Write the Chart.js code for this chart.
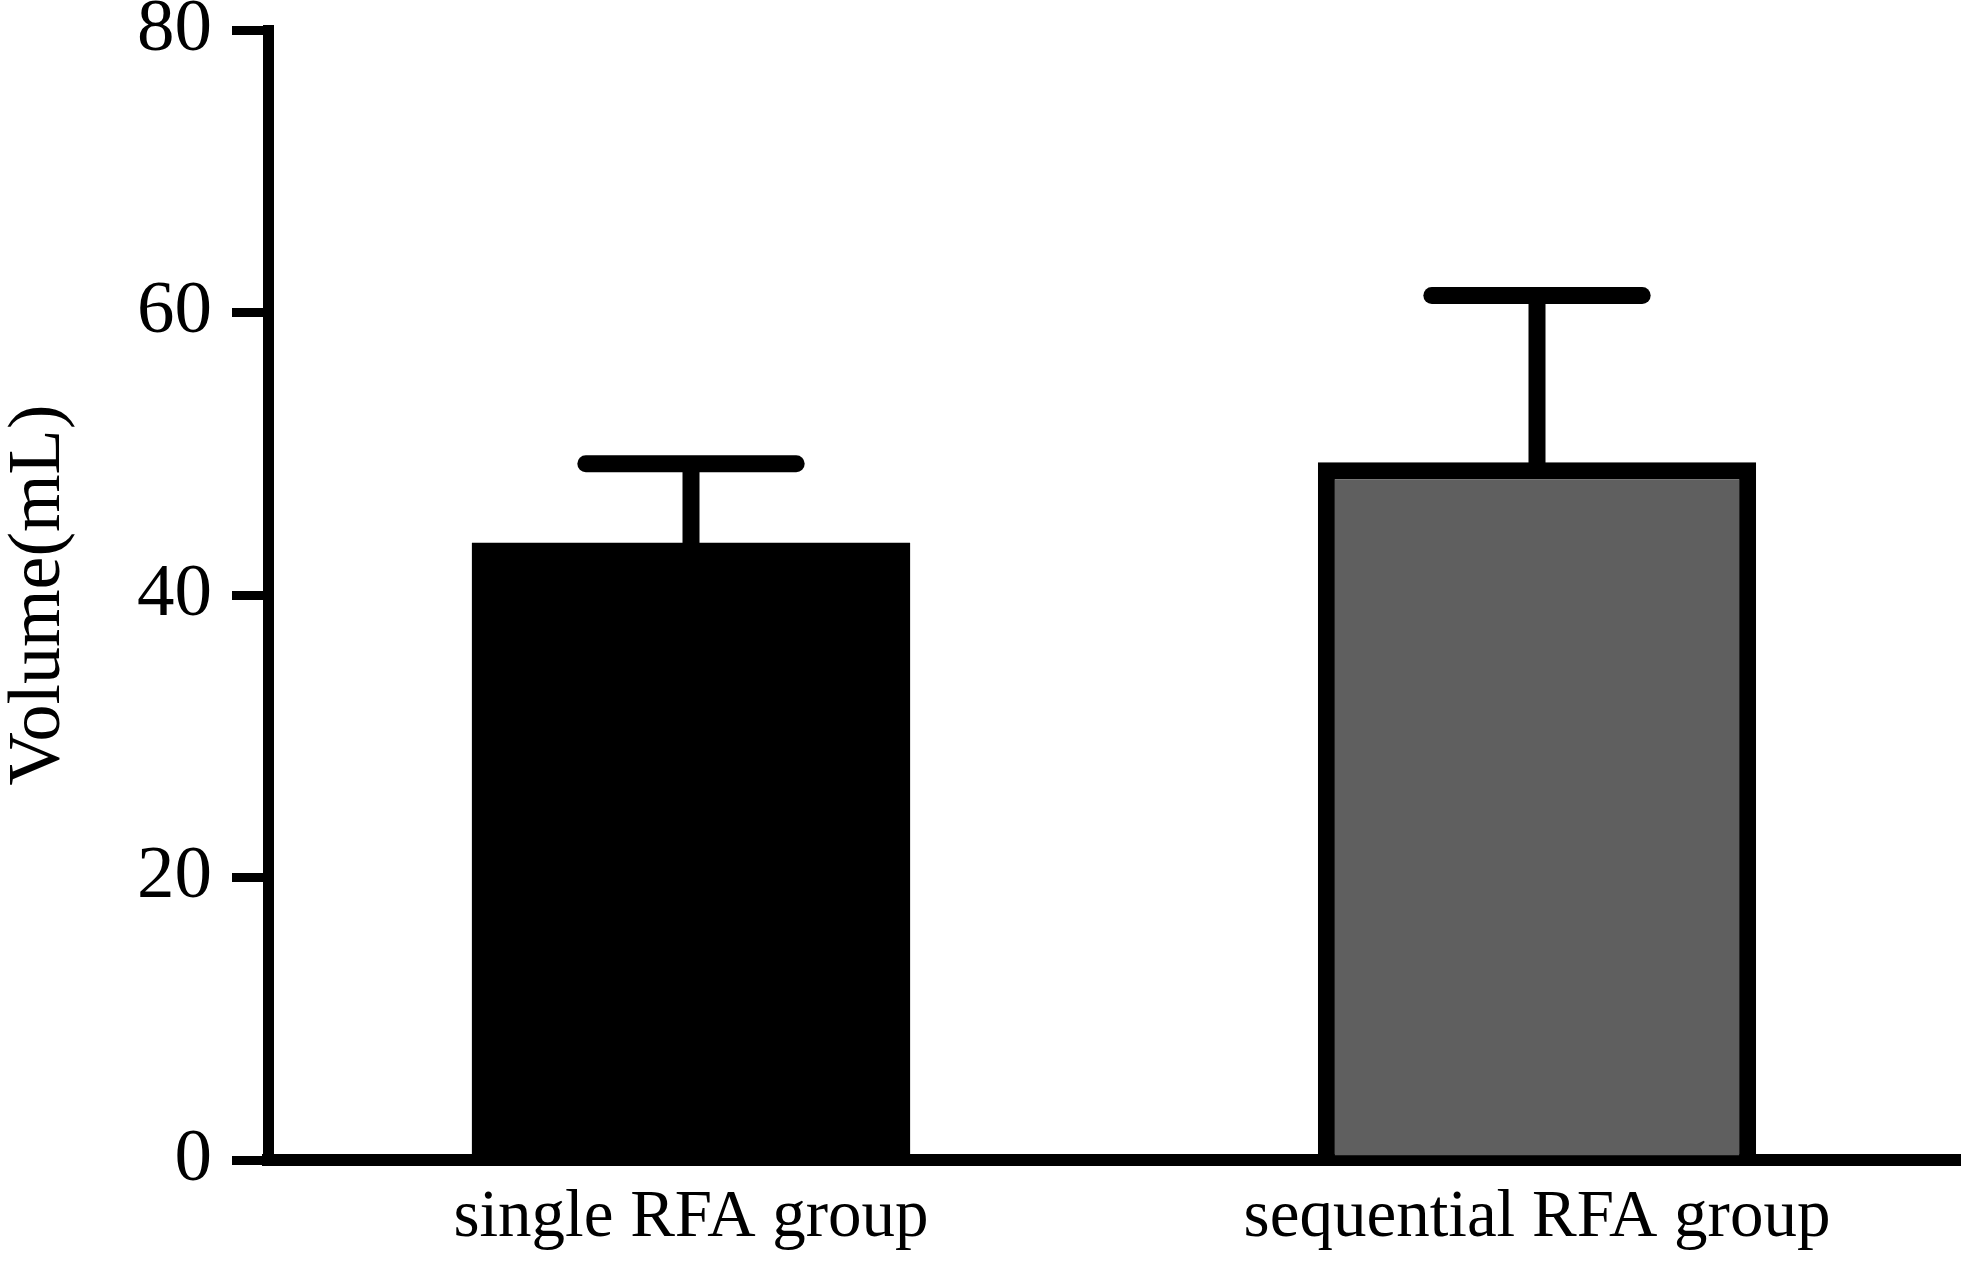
<!DOCTYPE html>
<html><head><meta charset="utf-8">
<script src="https://cdn.jsdelivr.net/npm/chart.js@4/dist/chart.umd.min.js"></script>
<style>html,body{margin:0;padding:0;background:#fff}#wrap{width:1969px;height:1263px;position:relative}</style>
</head><body><div id="wrap"><canvas id="c"></canvas></div>
<script>
const categories = ['single RFA group', 'sequential RFA group'];
const meanVolume = [43.7, 49.4];
const sdVolume = [5.6, 11.8];
const yTickValues = [0, 20, 40, 60, 80];
const barFill = ['#000000', '#5f5f5f'];
const barBorder = [0, 17];
const axisTitle = 'Volume(mL)';

const errorBars = {
  id: 'errorBars',
  afterDatasetsDraw(chart) {
    const ctx = chart.ctx;
    const meta = chart.getDatasetMeta(0);
    const y = chart.scales.y;
    ctx.save();
    ctx.strokeStyle = '#000';
    ctx.lineWidth = 17;
    meta.data.forEach((bar, i) => {
      const top = y.getPixelForValue(meanVolume[i] + sdVolume[i]);
      const half = bar.width * 0.24;
      ctx.lineCap = 'butt';
      ctx.beginPath(); ctx.moveTo(bar.x, bar.y + 2); ctx.lineTo(bar.x, top); ctx.stroke();
      ctx.lineCap = 'round';
      ctx.beginPath(); ctx.moveTo(bar.x - half, top); ctx.lineTo(bar.x + half, top); ctx.stroke();
    });
    ctx.restore();
  }
};

new Chart(document.getElementById('c'), {
  type: 'bar',
  data: {
    labels: categories,
    datasets: [{
      data: meanVolume,
      backgroundColor: barFill,
      borderColor: '#000000',
      borderWidth: barBorder,
      borderSkipped: 'start',
      categoryPercentage: 0.518,
      barPercentage: 1.0
    }]
  },
  plugins: [errorBars],
  options: {
    responsive: true,
    maintainAspectRatio: false,
    devicePixelRatio: 1,
    animation: false,
    layout: { padding: { left: 0, top: 30, right: 9, bottom: 0 } },
    plugins: { legend: { display: false }, tooltip: { enabled: false }, title: { display: false } },
    scales: {
      x: {
        z: 1,
        offset: true,
        grid: { display: true, drawOnChartArea: false, drawTicks: false, lineWidth: 1, color: 'rgba(0,0,0,0)' },
        border: { display: true, color: '#000', width: 12 },
        ticks: { color: '#000', padding: 25, font: { family: 'Liberation Serif', size: 67, lineHeight: 1 } },
        afterFit(s) { s.height = 103; s.paddingLeft = 0; s.paddingRight = 0; }
      },
      y: {
        min: 0, max: 80,
        afterBuildTicks(s) { s.ticks = yTickValues.map(v => ({ value: v })); },
        grid: { display: true, drawOnChartArea: false, drawTicks: true, tickLength: 36, lineWidth: 9, color: '#000' },
        border: { display: true, color: '#000', width: 11 },
        ticks: { color: '#000', padding: 20, font: { family: 'Liberation Serif', size: 75, lineHeight: 1 } },
        title: { display: true, text: axisTitle, color: '#000', padding: { top: 3, bottom: 0 }, font: { family: 'Liberation Serif', size: 74, lineHeight: 1 } },
        afterFit(s) { s.width = 268; s.paddingTop = 0; s.paddingBottom = 0; }
      }
    }
  }
});
</script>
</body></html>
